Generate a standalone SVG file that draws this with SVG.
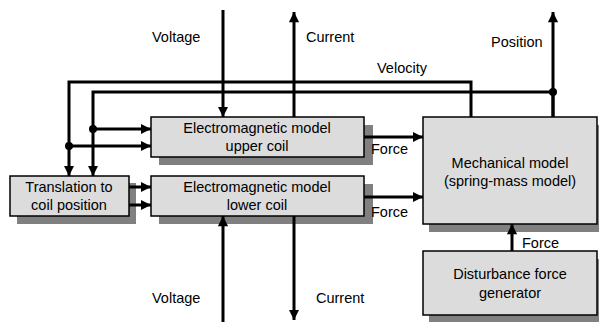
<svg xmlns="http://www.w3.org/2000/svg" width="599" height="322" viewBox="0 0 599 322">
<style>
.box{fill:#dcdcdc;stroke:#000;stroke-width:1.5}
.sh{fill:#808080}
.t{font-family:"Liberation Sans",Arial,sans-serif;font-size:14.5px;fill:#000}
.c{text-anchor:middle}
.w{fill:none;stroke:#000;stroke-width:3}
</style>
<defs>
<marker id="a" viewBox="0 0 10 10" refX="10" refY="5" markerWidth="3.6" markerHeight="3.4" orient="auto" markerUnits="strokeWidth">
<path d="M0,0L10,5L0,10z" fill="#000"/>
</marker>
</defs>
<rect width="599" height="322" fill="#fff"/>
<g id="translation">
<rect class="sh" x="17" y="183" width="119" height="41"/>
<rect class="box" x="10" y="176" width="119" height="40"/>
<text class="t c" x="69" y="192">Translation to</text>
<text class="t c" x="69" y="210">coil position</text>
</g>
<g id="em-upper">
<rect class="sh" x="159" y="125" width="214" height="40"/>
<rect class="box" x="151" y="117" width="213" height="40"/>
<text class="t c" x="257" y="133">Electromagnetic model</text>
<text class="t c" x="257" y="151">upper coil</text>
</g>
<g id="em-lower">
<rect class="sh" x="159" y="184" width="214" height="40"/>
<rect class="box" x="151" y="176" width="213" height="40"/>
<text class="t c" x="257" y="192">Electromagnetic model</text>
<text class="t c" x="257" y="210">lower coil</text>
</g>
<g id="mechanical">
<rect class="sh" x="429" y="125" width="170" height="107"/>
<rect class="box" x="423" y="117" width="174" height="107"/>
<text class="t c" x="510" y="168">Mechanical model</text>
<text class="t c" x="510" y="186">(spring-mass model)</text>
</g>
<g id="disturbance">
<rect class="sh" x="429" y="259" width="170" height="63"/>
<rect class="box" x="423" y="251" width="174" height="64"/>
<text class="t c" x="510" y="279">Disturbance force</text>
<text class="t c" x="510" y="298">generator</text>
</g>
<g id="connectors">
<path class="w" d="M471,117V82H69V176" marker-end="url(#a)"/>
<path class="w" d="M553,117V92H93V176" marker-end="url(#a)"/>
<path class="w" d="M553,117V12" marker-end="url(#a)"/>
<path class="w" d="M93,129H151" marker-end="url(#a)"/>
<path class="w" d="M69,146H151" marker-end="url(#a)"/>
<circle cx="93" cy="129" r="4"/>
<circle cx="69" cy="146" r="4"/>
<circle cx="553" cy="92" r="4"/>
<path class="w" d="M129,187H151" marker-end="url(#a)"/>
<path class="w" d="M129,205H151" marker-end="url(#a)"/>
<path class="w" d="M223,10V117" marker-end="url(#a)"/>
<path class="w" d="M294,117V12" marker-end="url(#a)"/>
<path class="w" d="M223,322V216" marker-end="url(#a)"/>
<path class="w" d="M294,216V320" marker-end="url(#a)"/>
<path class="w" d="M364,137H423" marker-end="url(#a)"/>
<path class="w" d="M364,197H423" marker-end="url(#a)"/>
<path class="w" d="M512,251V224" marker-end="url(#a)"/>
</g>
<g id="labels">
<text class="t" x="152" y="42">Voltage</text>
<text class="t" x="306" y="42">Current</text>
<text class="t" x="377" y="73">Velocity</text>
<text class="t" x="491" y="47">Position</text>
<text class="t" x="371" y="154">Force</text>
<text class="t" x="371" y="217">Force</text>
<text class="t" x="522" y="248">Force</text>
<text class="t" x="152" y="303">Voltage</text>
<text class="t" x="316" y="303">Current</text>
</g>
</svg>
